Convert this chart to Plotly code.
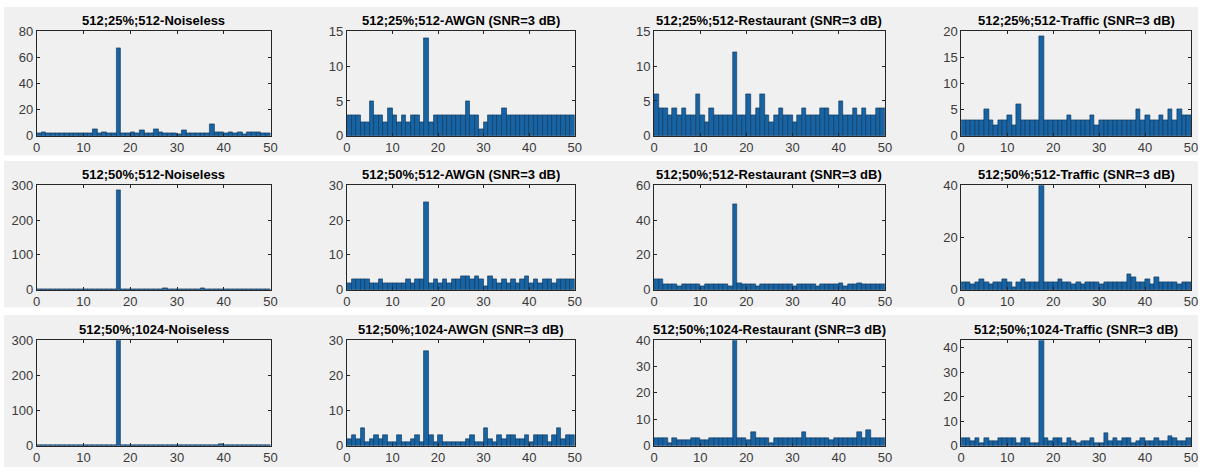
import plotly.graph_objects as go

# Bin index (1..50) of each histogram bar
bins = list(range(1, 51))

# Row 1: 512;25%;512
noiseless_25_512 = [2, 3, 2, 2, 2, 2, 2, 2, 2, 2, 2, 2, 5, 2, 3, 2, 2, 67, 2, 2,
                    3, 2, 4, 2, 2, 5, 3, 2, 2, 2, 1, 4, 2, 2, 2, 2, 2, 9, 3, 3,
                    2, 3, 2, 3, 1, 3, 3, 3, 2, 2]
awgn_25_512 = [3, 3, 3, 2, 2, 5, 3, 3, 2, 4, 3, 2, 3, 2, 3, 3, 2, 14, 2, 3,
               3, 3, 3, 3, 3, 3, 5, 3, 3, 1, 2, 3, 3, 3, 4, 3, 3, 3, 3, 3,
               3, 3, 3, 3, 3, 3, 3, 3, 3, 3]
restaurant_25_512 = [6, 4, 4, 3, 4, 3, 4, 3, 3, 6, 3, 2, 4, 3, 3, 3, 3, 12, 3, 3,
                     6, 3, 4, 6, 3, 2, 3, 4, 3, 3, 2, 3, 4, 3, 3, 3, 4, 4, 3, 3,
                     5, 3, 3, 4, 3, 4, 3, 3, 4, 4]
traffic_25_512 = [3, 3, 3, 3, 3, 5, 3, 2, 3, 3, 4, 2, 6, 3, 3, 3, 3, 19, 3, 3,
                  3, 3, 3, 4, 3, 3, 3, 3, 4, 2, 3, 3, 3, 3, 3, 3, 3, 3, 5, 3,
                  4, 3, 3, 4, 3, 5, 3, 5, 4, 4]

# Row 2: 512;50%;512
noiseless_50_512 = [1, 3, 3, 2, 2, 2, 2, 2, 2, 3, 2, 2, 2, 3, 3, 2, 2, 286, 2, 3,
                    3, 2, 2, 2, 2, 2, 2, 4, 2, 2, 2, 3, 2, 2, 2, 4, 2, 3, 2, 2,
                    2, 3, 2, 2, 3, 2, 2, 3, 2, 3]
awgn_50_512 = [2, 3, 3, 3, 3, 2, 2, 3, 2, 2, 2, 2, 2, 3, 2, 3, 3, 25, 2, 3,
               2, 3, 2, 3, 3, 4, 4, 3, 4, 3, 1, 4, 3, 2, 3, 2, 3, 2, 3, 4,
               2, 3, 2, 3, 3, 2, 3, 3, 3, 3]
restaurant_50_512 = [6, 6, 3, 3, 3, 2, 3, 3, 3, 3, 2, 3, 3, 3, 3, 3, 2, 49, 4, 3,
                     3, 3, 2, 3, 3, 3, 3, 3, 3, 3, 2, 3, 3, 3, 3, 2, 3, 3, 3, 3,
                     4, 2, 3, 3, 4, 3, 3, 3, 3, 3]
traffic_50_512 = [3, 3, 2, 3, 4, 3, 2, 3, 3, 4, 3, 1, 3, 4, 3, 3, 3, 52, 3, 3,
                  3, 4, 3, 3, 2, 3, 2, 3, 3, 3, 2, 3, 3, 3, 3, 3, 6, 5, 3, 3,
                  4, 2, 5, 3, 3, 3, 3, 2, 3, 3]

# Row 3: 512;50%;1024
noiseless_50_1024 = [1, 1, 1, 1, 1, 1, 2, 1, 1, 2, 2, 2, 2, 1, 1, 1, 2, 330, 2, 2,
                     2, 2, 2, 2, 2, 1, 2, 1, 1, 1, 1, 3, 2, 2, 2, 2, 2, 2, 2, 4,
                     2, 1, 1, 1, 2, 2, 2, 2, 2, 2]
awgn_50_1024 = [2, 3, 2, 5, 1, 2, 3, 2, 3, 1, 1, 3, 1, 1, 2, 3, 1, 27, 3, 1,
                3, 1, 1, 1, 1, 1, 2, 3, 1, 1, 5, 2, 1, 3, 2, 3, 3, 2, 2, 3,
                1, 3, 3, 3, 1, 3, 5, 2, 3, 3]
restaurant_50_1024 = [3, 3, 3, 1, 3, 2, 2, 2, 3, 3, 2, 2, 3, 3, 3, 3, 3, 55, 3, 3,
                      2, 5, 3, 3, 3, 1, 3, 3, 3, 3, 3, 3, 5, 3, 3, 3, 3, 3, 2, 3,
                      3, 3, 3, 3, 5, 3, 6, 3, 3, 3]
traffic_50_1024 = [3, 3, 2, 3, 1, 3, 2, 2, 3, 3, 3, 3, 1, 3, 3, 1, 1, 58, 3, 2,
                   3, 3, 1, 3, 2, 1, 2, 2, 3, 1, 1, 5, 2, 3, 2, 3, 3, 1, 2, 3,
                   2, 2, 3, 2, 2, 4, 3, 2, 2, 3]

titles = [
    ["512;25%;512-Noiseless", "512;25%;512-AWGN (SNR=3 dB)",
     "512;25%;512-Restaurant (SNR=3 dB)", "512;25%;512-Traffic (SNR=3 dB)"],
    ["512;50%;512-Noiseless", "512;50%;512-AWGN (SNR=3 dB)",
     "512;50%;512-Restaurant (SNR=3 dB)", "512;50%;512-Traffic (SNR=3 dB)"],
    ["512;50%;1024-Noiseless", "512;50%;1024-AWGN (SNR=3 dB)",
     "512;50%;1024-Restaurant (SNR=3 dB)", "512;50%;1024-Traffic (SNR=3 dB)"],
]
series = [
    [noiseless_25_512, awgn_25_512, restaurant_25_512, traffic_25_512],
    [noiseless_50_512, awgn_50_512, restaurant_50_512, traffic_50_512],
    [noiseless_50_1024, awgn_50_1024, restaurant_50_1024, traffic_50_1024],
]
y_ranges = [
    [80, 15, 15, 20],
    [300, 30, 60, 40],
    [300, 30, 40, 43],
]
y_dticks = [
    [20, 5, 5, 5],
    [100, 10, 20, 20],
    [100, 10, 10, 10],
]

W, H = 1205, 475
# plot-area pixel boxes
col_px = [(33, 269), (346, 576), (656, 889), (966, 1198)]
row_px = [(25, 133), (184, 292), (344, 453)]
# grey panel backgrounds of the three rows
band_px = [(0, 153), (159, 310), (318, 475)]

BAR_FILL = "#1763a3"
BAR_EDGE = "#0e3457"
AXIS_COL = "#262626"
TICK_COL = "#3a3a3a"
FONT = "Liberation Sans, Arial, Helvetica, sans-serif"

fig = go.Figure()
layout = dict(
    width=W, height=H,
    margin=dict(l=0, r=0, t=0, b=0),
    paper_bgcolor="white",
    plot_bgcolor="white",
    showlegend=False,
    bargap=0,
    shapes=[],
    annotations=[],
    font=dict(family=FONT, size=13, color=TICK_COL),
)

for y0, y1 in band_px:
    layout["shapes"].append(dict(
        type="rect", xref="paper", yref="paper", layer="below",
        x0=0, x1=1, y0=1 - y1 / H, y1=1 - y0 / H,
        fillcolor="#f0f0f0", line=dict(width=0)))

idx = 0
for r in range(3):
    for c in range(4):
        idx += 1
        sfx = "" if idx == 1 else str(idx)
        xa, ya = "x" + sfx, "y" + sfx
        fig.add_trace(go.Bar(
            x=[b - 0.5 for b in bins], y=series[r][c], width=1,
            marker=dict(color=BAR_FILL, line=dict(color=BAR_EDGE, width=0.6)),
            xaxis=xa, yaxis=ya, hoverinfo="x+y"))
        xl, xr = col_px[c]
        yt, yb = row_px[r]
        common = dict(
            showline=True, linecolor=AXIS_COL, linewidth=0.8, mirror="ticks",
            ticks="inside", ticklen=3, tickwidth=0.8, tickcolor=AXIS_COL,
            showgrid=False, zeroline=False, fixedrange=True,
            tickfont=dict(family=FONT, size=13, color=TICK_COL),
        )
        layout["xaxis" + sfx] = dict(
            domain=[xl / W, xr / W], anchor=ya, range=[0, 50],
            tick0=0, dtick=10, **common)
        layout["yaxis" + sfx] = dict(
            domain=[1 - yb / H, 1 - yt / H], anchor=xa,
            range=[0, y_ranges[r][c]], tick0=0, dtick=y_dticks[r][c],
            **common)
        layout["annotations"].append(dict(
            text="<b>" + titles[r][c] + "</b>", xref="paper", yref="paper",
            x=(xl + xr) / 2 / W, y=1 - yt / H, xanchor="center",
            yanchor="bottom", yshift=1, showarrow=False,
            font=dict(family=FONT, size=13, color="#000000")))

fig.update_layout(**layout)
fig.write_html("out.html")
